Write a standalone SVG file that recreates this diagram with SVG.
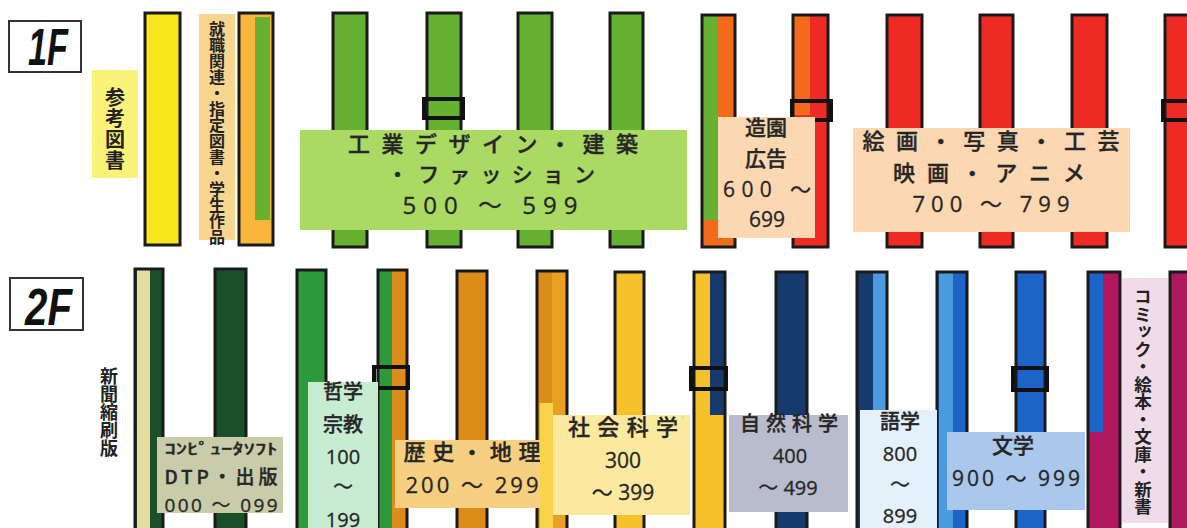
<svg xmlns="http://www.w3.org/2000/svg" width="1187" height="528" viewBox="0 0 1187 528">
<style>
.o{fill:none;stroke:#1a1a1a;stroke-width:3}
.bx{fill:none;stroke:#111;stroke-width:4}
.t{font-family:"Noto Sans CJK JP","Noto Sans",sans-serif;fill:#262626;stroke:#262626;stroke-width:0.35;font-weight:500;text-anchor:middle}
.n{font-family:"Open Sans","Noto Sans CJK JP",sans-serif;fill:#262626;stroke:#262626;stroke-width:0.3;text-anchor:middle}
.v{font-family:"Noto Sans CJK JP",sans-serif;fill:#222;font-weight:700;writing-mode:vertical-rl}
.fl{font-family:"Liberation Sans",sans-serif;font-weight:700;font-style:italic;fill:#111}
.Y{fill:#f8e71c}.OR{fill:#f8b73c}.G{fill:#66b032}.O{fill:#f26b1a}.R{fill:#ee2a24}
.DG{fill:#1b4f2a}.TN{fill:#e7dca0}.G2{fill:#2c9a3c}.OD{fill:#dc8c18}.YL{fill:#f6c12a}
.NV{fill:#163a6e}.LB{fill:#4a9ae0}.BL{fill:#1e64c8}.MG{fill:#b0185e}
</style>
<rect width="1187" height="528" fill="#fff"/>
<g id="floor-labels">
<g id="label-1F"><rect x="9" y="21" width="72" height="51" fill="#fff" stroke="#333" stroke-width="2"/><text class="fl" x="28" y="65" font-size="51" textLength="40" lengthAdjust="spacingAndGlyphs">1F</text></g>
<g id="label-2F"><rect x="10" y="278" width="73" height="52" fill="#fff" stroke="#333" stroke-width="2"/><text class="fl" x="25" y="325" font-size="51" textLength="47" lengthAdjust="spacingAndGlyphs">2F</text></g>
</g>
<g id="shelves-1F">
<g id="s1"><rect class="Y" x="145" y="13" width="35" height="232"/><rect class="o" x="145" y="13" width="35" height="232"/></g>
<g id="s2"><rect class="OR" x="239" y="13" width="34" height="232"/><rect class="G" x="255" y="17" width="15" height="203"/><rect class="o" x="239" y="13" width="34" height="232"/></g>
<g id="s3"><rect class="G" x="333" y="13" width="34" height="234"/><rect class="o" x="333" y="13" width="34" height="234"/></g>
<g id="s4"><rect class="G" x="427" y="13" width="34" height="234"/><rect class="o" x="427" y="13" width="34" height="234"/><rect class="bx" x="424" y="99" width="39" height="19"/></g>
<g id="s5"><rect class="G" x="518" y="13" width="34" height="234"/><rect class="o" x="518" y="13" width="34" height="234"/></g>
<g id="s6"><rect class="G" x="610" y="13" width="33" height="234"/><rect class="o" x="610" y="13" width="33" height="234"/></g>
<g id="s7"><rect class="O" x="702" y="15" width="33" height="232"/><rect class="G" x="702" y="15" width="16" height="205"/><rect class="o" x="702" y="15" width="33" height="232"/></g>
<g id="s8"><rect class="R" x="793" y="15" width="35" height="232"/><rect class="O" x="793" y="15" width="17" height="100"/><rect class="o" x="793" y="15" width="35" height="232"/><rect class="bx" x="792" y="101" width="39" height="19"/></g>
<g id="s9"><rect class="R" x="887" y="15" width="35" height="232"/><rect class="o" x="887" y="15" width="35" height="232"/></g>
<g id="s10"><rect class="R" x="980" y="15" width="33" height="232"/><rect class="o" x="980" y="15" width="33" height="232"/></g>
<g id="s11"><rect class="R" x="1072" y="15" width="35" height="232"/><rect class="o" x="1072" y="15" width="35" height="232"/></g>
<g id="s12"><rect class="R" x="1165" y="15" width="30" height="232"/><rect class="o" x="1165" y="15" width="30" height="232"/><rect class="bx" x="1163" y="101" width="30" height="19"/></g>
</g>
<g id="shelves-2F">
<g id="b1"><rect class="DG" x="135" y="269" width="28" height="265"/><rect class="TN" x="137" y="269" width="13" height="265"/><rect class="o" x="135" y="269" width="28" height="265"/></g>
<g id="b2"><rect class="DG" x="215" y="269" width="31" height="265"/><rect class="o" x="215" y="269" width="31" height="265"/></g>
<g id="b3"><rect class="G2" x="297" y="270" width="29" height="265"/><rect class="o" x="297" y="270" width="29" height="265"/></g>
<g id="b4"><rect class="OD" x="378" y="270" width="29" height="265"/><rect class="G2" x="378" y="270" width="14" height="265"/><rect class="o" x="378" y="270" width="29" height="265"/><rect class="bx" x="374" y="367" width="34" height="21"/></g>
<g id="b5"><rect class="OD" x="457" y="271" width="30" height="265"/><rect class="o" x="457" y="271" width="30" height="265"/></g>
<g id="b6"><rect fill="#eaa020" x="537" y="271" width="30" height="265"/><rect class="OD" x="537" y="271" width="15" height="132"/><rect class="o" x="537" y="271" width="30" height="265"/></g>
<g id="b7"><rect class="YL" x="615" y="272" width="29" height="265"/><rect class="o" x="615" y="272" width="29" height="265"/></g>
<g id="b8"><rect class="YL" x="694" y="272" width="31" height="265"/><rect class="NV" x="710" y="272" width="15" height="143"/><rect class="o" x="694" y="272" width="31" height="265"/><rect class="bx" x="691" y="368" width="35" height="21"/></g>
<g id="b9"><rect class="NV" x="776" y="272" width="31" height="265"/><rect class="o" x="776" y="272" width="31" height="265"/></g>
<g id="b10"><rect class="NV" x="857" y="272" width="30" height="265"/><rect class="LB" x="873" y="272" width="14" height="265"/><rect class="o" x="857" y="272" width="30" height="265"/></g>
<g id="b11"><rect class="BL" x="937" y="272" width="30" height="265"/><rect class="LB" x="939" y="272" width="14" height="265"/><rect class="o" x="937" y="272" width="30" height="265"/></g>
<g id="b12"><rect class="BL" x="1016" y="272" width="29" height="265"/><rect class="o" x="1016" y="272" width="29" height="265"/><rect class="bx" x="1013" y="368" width="34" height="22"/></g>
<g id="b13"><rect class="MG" x="1088" y="272" width="32" height="265"/><rect class="BL" x="1088" y="272" width="15" height="160"/><rect class="o" x="1088" y="272" width="32" height="265"/></g>
<g id="b14"><rect class="MG" x="1170" y="272" width="25" height="265"/><rect class="o" x="1170" y="272" width="25" height="265"/></g>
</g>
<g id="labels-1F">
<g id="l-sanko"><rect x="92" y="70" width="46" height="108" fill="#fbf27a"/><text class="v" x="115" y="87" font-size="20" letter-spacing="1">参考図書</text></g>
<g id="l-shushoku"><rect x="199" y="14" width="36" height="226" fill="#f9d690"/><text class="v" x="217" y="21" font-size="16">就職関連・指定図書・学生作品</text></g>
<g id="l-500"><rect x="300" y="130" width="387" height="100" fill="#aad964"/>
<text class="t" x="493" y="152" font-size="22" textLength="290" lengthAdjust="spacing">工業デザイン・建築</text>
<text class="t" x="491" y="182" font-size="21" textLength="208" lengthAdjust="spacing">・ファッション</text>
<text class="n" x="490" y="214" font-size="24" textLength="175" lengthAdjust="spacing">500 ～ 599</text></g>
<g id="l-600"><rect x="718" y="117" width="97" height="121" fill="#fcd8b2"/>
<text class="t" x="766" y="135" font-size="21">造園</text>
<text class="t" x="766" y="166" font-size="21">広告</text>
<text class="n" x="767" y="197" font-size="21" textLength="88" lengthAdjust="spacing">600 ～</text>
<text class="n" x="767" y="227" font-size="21">699</text></g>
<g id="l-700"><rect x="853" y="128" width="277" height="104" fill="#fcd8b2"/>
<text class="t" x="991" y="149" font-size="22" textLength="257" lengthAdjust="spacing">絵画・写真・工芸</text>
<text class="t" x="989" y="181" font-size="22" textLength="192" lengthAdjust="spacing">映画・アニメ</text>
<text class="n" x="991" y="212" font-size="22" textLength="157" lengthAdjust="spacing">700 ～ 799</text></g>
</g>
<g id="labels-2F">
<g id="l-shinbun"><text class="v" x="109" y="367" font-size="18" font-weight="500">新聞縮刷版</text></g>
<g id="l-000"><rect x="157" y="437" width="126" height="76" fill="#c8cca8"/>
<text class="t" x="221" y="454" font-size="15" textLength="113" lengthAdjust="spacingAndGlyphs">ｺﾝﾋﾟｭｰﾀｿﾌﾄ</text>
<text class="t" x="221" y="484" font-size="19" textLength="113" lengthAdjust="spacing">DTP・出版</text>
<text class="n" x="221" y="512" font-size="19" textLength="113" lengthAdjust="spacing">000 ～ 099</text></g>
<g id="l-100"><rect x="308" y="382" width="70" height="150" fill="#c8ecd2"/>
<text class="t" x="343" y="399" font-size="20">哲学</text>
<text class="t" x="343" y="432" font-size="20">宗教</text>
<text class="n" x="343" y="464" font-size="20">100</text>
<text class="n" x="343" y="494" font-size="20">～</text>
<text class="n" x="343" y="527" font-size="20">199</text></g>
<g id="l-200"><rect x="395" y="440" width="155" height="68" fill="#f6cf80"/>
<text class="t" x="472" y="460" font-size="22" textLength="137" lengthAdjust="spacing">歴史・地理</text>
<text class="n" x="472" y="493" font-size="22" textLength="133" lengthAdjust="spacing">200 ～ 299</text></g>
<g id="l-300"><rect x="540" y="403" width="13" height="125" fill="#f8d44a"/><rect x="553" y="415" width="137" height="100" fill="#fbe9a0"/>
<text class="t" x="623" y="435" font-size="22" textLength="110" lengthAdjust="spacing">社会科学</text>
<text class="n" x="623" y="468" font-size="21">300</text>
<text class="n" x="623" y="500" font-size="21">～ 399</text></g>
<g id="l-400"><rect x="729" y="415" width="119" height="97" fill="#b9bccd"/>
<text class="t" x="789" y="431" font-size="20" textLength="98" lengthAdjust="spacing">自然科学</text>
<text class="n" x="790" y="463" font-size="20">400</text>
<text class="n" x="788" y="495" font-size="20">～ 499</text></g>
<g id="l-800"><rect x="860" y="410" width="77" height="122" fill="#e4f0fa"/>
<text class="t" x="900" y="429" font-size="20">語学</text>
<text class="n" x="900" y="461" font-size="20">800</text>
<text class="n" x="900" y="492" font-size="20">～</text>
<text class="n" x="900" y="523" font-size="20">899</text></g>
<g id="l-900"><rect x="947" y="432" width="138" height="78" fill="#a9c8ec"/>
<text class="t" x="1013" y="453" font-size="21">文学</text>
<text class="n" x="1016" y="486" font-size="21" textLength="128" lengthAdjust="spacing">900 ～ 999</text></g>
<g id="l-comic"><rect x="1122" y="278" width="46" height="245" fill="#f0dce8"/><text class="v" x="1143" y="288" font-size="17.5" font-weight="500">コミック・絵本・文庫・新書</text></g>
</g>
<g id="connectors"/>
</svg>
